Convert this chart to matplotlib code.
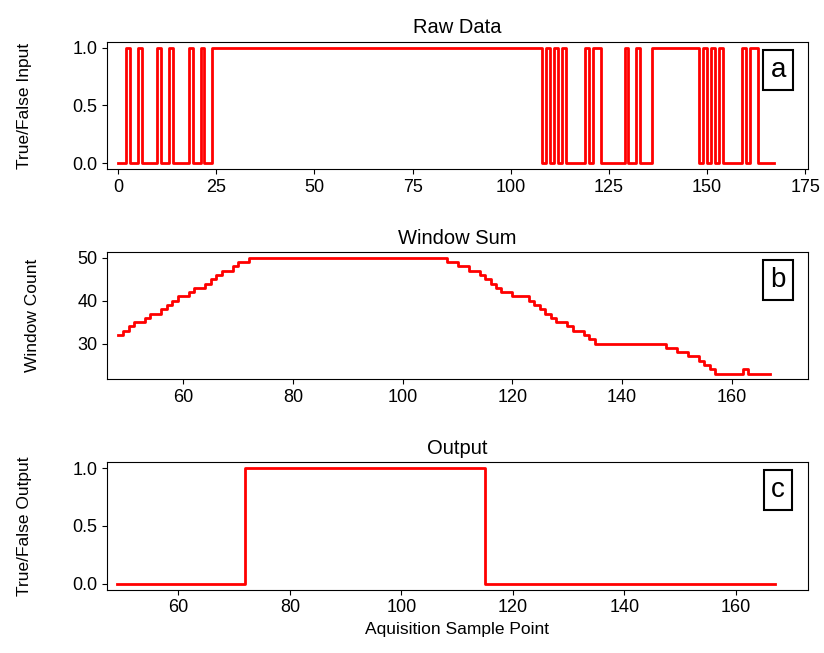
import matplotlib
matplotlib.use("Agg")
import matplotlib.pyplot as plt

plt.rcParams['font.family'] = ['Liberation Sans', 'DejaVu Sans']

# raw samples 0..167
raw_x = list(range(0, 168))
raw_y = ([0, 0, 1, 0, 0, 1, 0, 0, 0, 0, 1, 0, 0, 1, 0, 0, 0, 0, 1, 0, 0, 1, 0, 0]
         + [1] * 84
         + [0, 1, 0, 1, 0, 1, 0, 0, 0, 0, 0, 1, 0, 1, 1, 0, 0, 0, 0, 0, 0, 1, 0, 0, 1, 0, 0, 0]
         + [1] * 12
         + [0, 1, 0, 1, 0, 1, 0, 0, 0, 0, 0, 1, 0, 1, 1, 0, 0, 0, 0, 0])

# window sum 48..167
win_x = list(range(48, 168))
win_y = [32, 33, 34, 35, 35, 36, 37, 37, 38, 39, 40, 41, 41, 42, 43, 43, 44, 45, 46, 47,
         47, 48, 49, 49, 50] + [50] * 35 + \
        [49, 49, 48, 48, 47, 47, 46, 45, 44, 43, 42, 42, 41, 41, 41, 40, 39, 38, 37, 36,
         35, 35, 34, 33, 33, 32, 31, 30] + [30] * 12 + \
        [29, 29, 28, 28, 27, 27, 26, 25, 24, 23, 23, 23, 23, 23, 24, 23, 23, 23, 23, 23]

# output 49..167
out_x = list(range(49, 168))
out_y = [0] * 23 + [1] * 43 + [0] * 53

fig, axes = plt.subplots(3, 1, figsize=(8.24, 6.53), dpi=100)
fig.subplots_adjust(left=0.13, right=0.98, top=0.936, bottom=0.097, hspace=0.65)

ax = axes[0]
ax.step(raw_x, raw_y, where='post', color='red', lw=2)
ax.set_title("Raw Data", fontsize=14.5)
ax.set_ylabel("True/False Input", fontsize=12.5)
ax.set_xlim(-2.8, 175.6)
ax.set_xticks([0, 25, 50, 75, 100, 125, 150, 175])
ax.set_yticks([0.0, 0.5, 1.0])

ax = axes[1]
ax.step(win_x, win_y, where='post', color='red', lw=2)
ax.set_title("Window Sum", fontsize=14.5)
ax.set_ylabel("Window Count", fontsize=12.5)
ax.set_xlim(46.1, 173.8)
ax.set_yticks([30, 40, 50])

ax = axes[2]
ax.step(out_x, out_y, where='post', color='red', lw=2)
ax.set_title("Output", fontsize=14.5)
ax.set_ylabel("True/False Output", fontsize=12.5)
ax.set_xlabel("Aquisition Sample Point", fontsize=12.5)
ax.set_xlim(47.2, 172.9)
ax.set_yticks([0.0, 0.5, 1.0])

for ax, lab, lx in zip(axes, ['a', 'b', 'c'], [-0.107, -0.096, -0.107]):
    ax.tick_params(labelsize=13)
    ax.yaxis.set_label_coords(lx, 0.5)
    ax.text(0.958, 0.78, lab, transform=ax.transAxes, fontsize=20,
            ha='center', va='center',
            bbox=dict(boxstyle='square,pad=0.25', fc='white', ec='black', lw=1.5))

fig.savefig("out.png")
